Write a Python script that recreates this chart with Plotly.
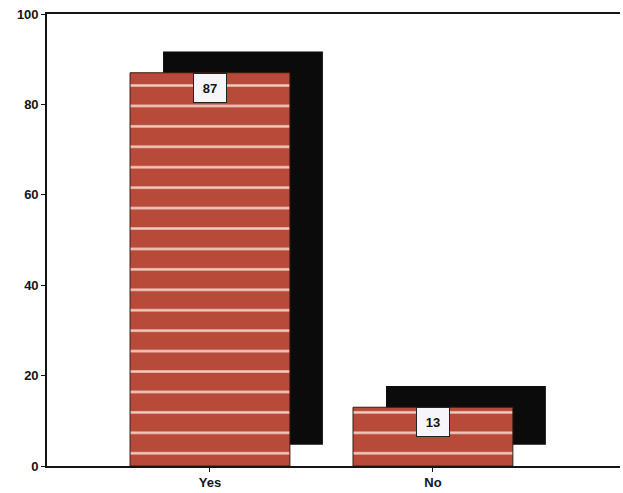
import plotly.graph_objects as go

# Survey answers and their percentages
categories = ["Yes", "No"]
percentages = [87, 13]
y_ticks = [0, 20, 40, 60, 80, 100]

# Styling for the pseudo-3D bars
BAR_WIDTH = 0.717
DEPTH_X = 0.148       # drop-shadow shift to the right (category units)
DEPTH_Y = 4.7         # drop-shadow lift (value units)
BRICK = "#b84a3a"
STRIPE = "#f4cdbf"
FONT = "Arial, Liberation Sans, sans-serif"
INK = "#151515"

fig = go.Figure()

# Black block sitting behind each bar
fig.add_trace(go.Bar(
    x=categories,
    y=percentages,
    base=[DEPTH_Y] * len(percentages),
    width=BAR_WIDTH,
    offset=-BAR_WIDTH / 2 + DEPTH_X,
    marker=dict(color="#0b0b0b", line=dict(width=0)),
    hoverinfo="skip",
    showlegend=False,
))

# Front bars with horizontal pale stripes
fig.add_trace(go.Bar(
    x=categories,
    y=percentages,
    width=BAR_WIDTH,
    offset=-BAR_WIDTH / 2,
    marker=dict(
        color=BRICK,
        line=dict(color="#3b1a12", width=1),
        pattern=dict(shape="-", size=20.43, solidity=0.12,
                     fgcolor=STRIPE, bgcolor=BRICK, fillmode="replace"),
    ),
    showlegend=False,
))

# Value boxes just under each bar top
for cat, val in zip(categories, percentages):
    fig.add_annotation(
        x=cat, y=val, xref="x", yref="y",
        text=str(val), showarrow=False,
        yanchor="top", xanchor="center",
        width=22, height=18,
        bgcolor="#f6f6fa", bordercolor="#222222", borderwidth=1, borderpad=5,
        font=dict(family=FONT, size=13, color=INK, weight="bold"),
    )

tick_font = dict(family=FONT, size=13, color=INK, weight="bold")

fig.update_layout(
    width=623, height=493,
    margin=dict(l=47, r=3, t=14, b=27),
    paper_bgcolor="white", plot_bgcolor="white",
    barmode="overlay",
    font=dict(family=FONT, size=12, color=INK),
    xaxis=dict(
        type="category",
        range=[-0.731, 1.839],
        showline=True, linecolor=INK, linewidth=1.6, mirror=True,
        ticks="outside", ticklen=4, tickcolor=INK,
        showgrid=False, zeroline=False,
        tickfont=tick_font,
    ),
    yaxis=dict(
        range=[0, 100],
        tickvals=y_ticks,
        showline=True, linecolor=INK, linewidth=1.6,
        ticks="outside", ticklen=4, tickcolor=INK,
        showgrid=False, zeroline=False,
        tickfont=tick_font,
    ),
)

fig.write_html("out.html")
